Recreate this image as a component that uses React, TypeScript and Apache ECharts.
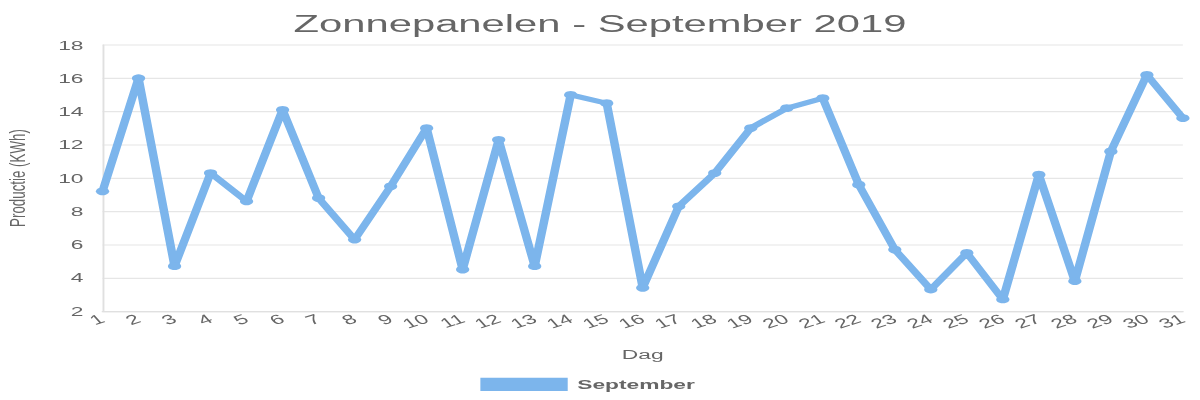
import React, { useEffect, useRef } from "react";
import * as echarts from "echarts";

const days: string[] = [
  "1", "2", "3", "4", "5", "6", "7", "8", "9", "10", "11", "12", "13", "14", "15", "16",
  "17", "18", "19", "20", "21", "22", "23", "24", "25", "26", "27", "28", "29", "30", "31",
];
const production: number[] = [
  9.2, 16.0, 4.7, 10.3, 8.6, 14.1, 8.8, 6.3, 9.5, 13.0, 4.5, 12.3, 4.7, 15.0, 14.5, 3.4,
  8.3, 10.3, 13.0, 14.2, 14.8, 9.6, 5.7, 3.3, 5.5, 2.7, 10.2, 3.8, 11.6, 16.2, 13.6,
];
const seriesName = "September";
const titleText = "Zonnepanelen - September 2019";
const xName = "Dag";
const yName = "Productie (KWh)";

const FONT = "'Liberation Sans', Arial, Helvetica, sans-serif";
const BLUE = "#7cb5ec";
const GREY = "#666666";

export default function App() {
  const ref = useRef<HTMLDivElement>(null);
  useEffect(() => {
    if (!ref.current) return;
    const chart = echarts.init(ref.current, null, { renderer: "svg" });
    chart.setOption({
      animation: false,
      textStyle: { fontFamily: FONT },
      title: {
        text: titleText,
        left: "center",
        top: 5,
        textStyle: { fontFamily: FONT, fontSize: 22, fontWeight: "normal", color: GREY },
      },
      legend: {
        data: [seriesName],
        left: 248,
        top: 335,
        icon: "rect",
        itemWidth: 46,
        itemHeight: 12,
        textStyle: { fontFamily: FONT, fontSize: 12, fontWeight: "bold", color: GREY },
      },
      grid: {
        left: 54,
        right: 9,
        top: 40.5,
        bottom: 80,
        containLabel: false,
        outerBoundsMode: "none",
      },
      xAxis: {
        type: "category",
        data: days,
        boundaryGap: false,
        name: xName,
        nameLocation: "middle",
        nameGap: 33,
        nameTextStyle: { fontFamily: FONT, fontSize: 12, color: GREY },
        axisLine: { lineStyle: { color: "#e0e0e0" } },
        axisTick: { show: false },
        axisLabel: { rotate: 28, fontSize: 12, color: GREY, fontFamily: FONT, margin: 6, interval: 0 },
        splitLine: { show: false },
      },
      yAxis: {
        type: "value",
        min: 2,
        max: 18,
        interval: 2,
        name: yName,
        nameLocation: "middle",
        nameGap: 39,
        nameTextStyle: { fontFamily: FONT, fontSize: 12, color: GREY },
        axisLine: { show: true, lineStyle: { color: "#e0e0e0" } },
        axisTick: { show: false },
        axisLabel: { fontSize: 12, color: GREY, fontFamily: FONT, margin: 10 },
        splitLine: { lineStyle: { color: "#e6e6e6" } },
      },
      series: [
        {
          name: seriesName,
          type: "line",
          data: production,
          symbol: "circle",
          symbolSize: 7,
          itemStyle: { color: BLUE },
          lineStyle: { color: BLUE, width: 4.5 },
        },
      ],
    });
    return () => chart.dispose();
  }, []);
  return (
    <div
      ref={ref}
      style={{
        position: "fixed",
        left: 0,
        top: 0,
        width: 632,
        height: 360,
        transform: "scale(1.8987, 1.1111)",
        transformOrigin: "0 0",
      }}
    />
  );
}
